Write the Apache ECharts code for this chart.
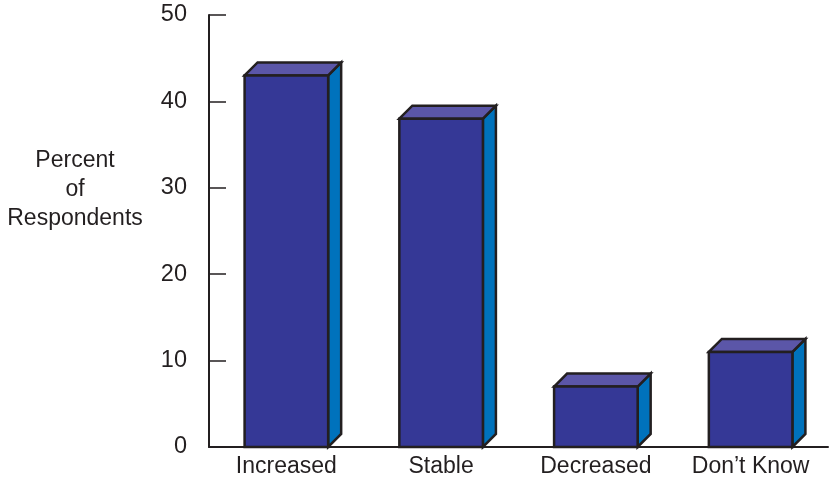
<!DOCTYPE html>
<html>
<head>
<meta charset="utf-8">
<script src="https://cdn.jsdelivr.net/npm/echarts@6/dist/echarts.min.js"></script>
<style>html,body{margin:0;padding:0;background:#fff}#c{width:830px;height:479px}</style>
</head>
<body>
<div id="c"></div>
<script>
const categories = ["Increased", "Stable", "Decreased", "Don\u2019t Know"];
const values = [43, 38, 7, 11];
const yTicks = [0, 10, 20, 30, 40, 50];
const yTitle = "Percent\nof\nRespondents";

const chart = echarts.init(document.getElementById('c'));
const FONT = '"Liberation Sans", Arial, sans-serif';
const DEPTH = 13;
const outline = '#231f20';

function renderItem(params, api) {
  const idx = api.value(0);
  const top = api.coord([idx, api.value(1)]);
  const base = api.coord([idx, 0]);
  const band = api.size([1, 0])[0];
  const w = band * 0.54;
  const x0 = top[0] - w / 2, x1 = top[0] + w / 2;
  const yt = top[1], yb = base[1];
  const d = DEPTH;
  const st = { stroke: outline, lineWidth: 2.5, lineJoin: 'miter' };
  return {
    type: 'group',
    children: [
      { type: 'polygon', shape: { points: [[x1, yt], [x1 + d, yt - d], [x1 + d, yb - d], [x1, yb]] },
        style: Object.assign({ fill: '#0072bc' }, st) },
      { type: 'polygon', shape: { points: [[x0, yt], [x0 + d, yt - d], [x1 + d, yt - d], [x1, yt]] },
        style: Object.assign({ fill: '#5b56a8' }, st) },
      { type: 'rect', shape: { x: x0, y: yt, width: w, height: yb - yt },
        style: Object.assign({ fill: '#353896' }, st) }
    ]
  };
}

chart.setOption({
  animation: false,
  backgroundColor: '#ffffff',
  grid: { left: 209, right: 2, top: 15, bottom: 32 },
  xAxis: {
    type: 'category',
    data: categories,
    axisLine: { lineStyle: { color: outline, width: 2 } },
    axisTick: { show: false },
    axisLabel: { color: '#231f20', fontSize: 23, fontFamily: FONT, margin: 8 }
  },
  yAxis: {
    type: 'value',
    min: yTicks[0],
    max: yTicks[yTicks.length - 1],
    interval: 10,
    axisLine: { show: true, lineStyle: { color: outline, width: 2 } },
    axisTick: { show: true, inside: true, length: 17, lineStyle: { color: outline, width: 1.5 } },
    splitLine: { show: false },
    axisLabel: { color: '#231f20', fontSize: 23.5, fontFamily: FONT, margin: 22 }
  },
  graphic: [{
    type: 'text',
    x: 75, y: 146,
    style: { text: yTitle, fill: '#231f20', fontSize: 23, fontFamily: FONT, align: 'center', verticalAlign: 'top', lineHeight: 29 }
  }],
  series: [{
    type: 'custom',
    renderItem: renderItem,
    data: values.map((v, i) => [i, v]),
    encode: { x: 0, y: 1 },
    clip: false
  }]
});
</script>
</body>
</html>
